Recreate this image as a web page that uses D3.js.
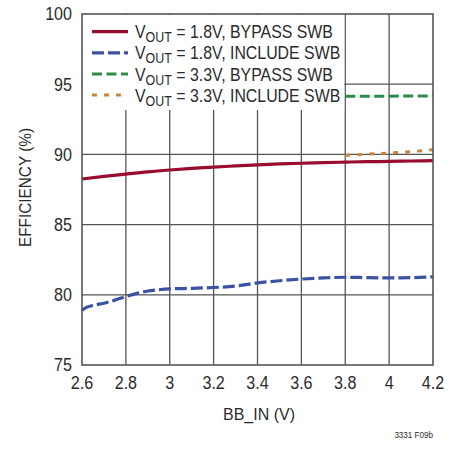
<!DOCTYPE html>
<html>
<head>
<meta charset="utf-8">
<script src="https://cdn.jsdelivr.net/npm/d3@7"></script>
<style>
  body { margin: 0; background: #fff; }
  svg text { font-family: "Liberation Sans", Arial, sans-serif; fill: #2b2b2b; }
</style>
</head>
<body>
<div id="chart"></div>
<script>
// axis ticks
const xTicks = [2.6, 2.8, 3.0, 3.2, 3.4, 3.6, 3.8, 4.0, 4.2];
const yTicks = [75, 80, 85, 90, 95, 100];

// VOUT = 1.8V, BYPASS SWB
const bypass18X = [2.6, 2.7, 2.8, 2.9, 3.0, 3.1, 3.2, 3.3, 3.4, 3.5, 3.6, 3.7, 3.8, 3.9, 4.0, 4.1, 4.2];
const bypass18Y = [88.25, 88.43, 88.6, 88.76, 88.89, 89.0, 89.1, 89.18, 89.26, 89.32, 89.37, 89.41, 89.45, 89.48, 89.5, 89.53, 89.56];

// VOUT = 1.8V, INCLUDE SWB
const include18X = [2.6, 2.62, 2.65, 2.7, 2.75, 2.8, 2.85, 2.9, 2.95, 3.0, 3.1, 3.2, 3.3, 3.4, 3.5, 3.6, 3.7, 3.8, 3.9, 4.0, 4.1, 4.2];
const include18Y = [78.9, 79.1, 79.25, 79.4, 79.62, 79.88, 80.1, 80.27, 80.36, 80.42, 80.46, 80.52, 80.62, 80.85, 81.0, 81.12, 81.2, 81.25, 81.22, 81.2, 81.22, 81.28];

// VOUT = 3.3V, BYPASS SWB
const bypass33X = [3.8, 4.0, 4.2];
const bypass33Y = [94.15, 94.15, 94.17];

// VOUT = 3.3V, INCLUDE SWB
const include33X = [3.8, 3.9, 4.0, 4.1, 4.2];
const include33Y = [89.93, 90.02, 90.1, 90.2, 90.33];

const series = [
    { vout: "1.8V", mode: "BYPASS SWB", xs: bypass18X, ys: bypass18Y, color: "#9a0c2f", width: 3.2, dash: null },
    { vout: "1.8V", mode: "INCLUDE SWB", xs: include18X, ys: include18Y, color: "#3a52a3", width: 3.2, dash: "12,4" },
    { vout: "3.3V", mode: "BYPASS SWB", xs: bypass33X, ys: bypass33Y, color: "#2d8a4b", width: 3, dash: "10,4.5" },
    { vout: "3.3V", mode: "INCLUDE SWB", xs: include33X, ys: include33Y, color: "#c6843c", width: 3, dash: "5,7" }
];

const W = 455, H = 451;
const plot = { left: 82, right: 433, top: 14, bottom: 365 };

const svg = d3.select("#chart").append("svg")
    .attr("width", W)
    .attr("height", H);

const x = d3.scaleLinear().domain([2.6, 4.2]).range([plot.left, plot.right]);
const y = d3.scaleLinear().domain([75, 100]).range([plot.bottom, plot.top]);

// squeeze text horizontally to look like a condensed face
function condense(sel, factor) {
    sel.each(function() {
        const len = this.getComputedTextLength();
        d3.select(this)
            .attr("textLength", len * factor)
            .attr("lengthAdjust", "spacingAndGlyphs");
    });
}

// gridlines
const grid = svg.append("g").attr("stroke", "#555").attr("stroke-width", 1.3);
grid.selectAll(".vgrid")
    .data(xTicks.slice(1, -1))
    .enter().append("line")
    .attr("x1", d => x(d)).attr("x2", d => x(d))
    .attr("y1", plot.top).attr("y2", plot.bottom);
grid.selectAll(".hgrid")
    .data(yTicks.slice(1, -1))
    .enter().append("line")
    .attr("x1", plot.left).attr("x2", plot.right)
    .attr("y1", d => y(d)).attr("y2", d => y(d));

// lines
const line = d3.line()
    .x(d => x(d[0]))
    .y(d => y(d[1]))
    .curve(d3.curveMonotoneX);

series.forEach(s => {
    const pts = s.xs.map((v, i) => [v, s.ys[i]]);
    svg.append("path")
        .datum(pts)
        .attr("d", line)
        .attr("fill", "none")
        .attr("stroke", s.color)
        .attr("stroke-width", s.width)
        .attr("stroke-dasharray", s.dash);
});

// legend box covers the grid
const legend = svg.append("g");
legend.append("rect")
    .attr("x", plot.left + 1)
    .attr("y", plot.top + 1)
    .attr("width", x(3.8) - plot.left - 2)
    .attr("height", 95)
    .attr("fill", "#fff");

const legendTexts = [];
series.forEach((s, i) => {
    const ly = 31.7 + i * 21.1;
    legend.append("line")
        .attr("x1", 92).attr("x2", 128)
        .attr("y1", ly).attr("y2", ly)
        .attr("stroke", s.color)
        .attr("stroke-width", s.width)
        .attr("stroke-dasharray", s.dash);
    const t = legend.append("text")
        .attr("data-y", ly + 6.6)
        .style("font-size", "18.5px");
    t.append("tspan").text("V");
    t.append("tspan").attr("dy", 4).style("font-size", "14.5px").text("OUT");
    t.append("tspan").attr("dy", -4).text(` = ${s.vout}, ${s.mode}`);
    legendTexts.push(t);
});
// first row spans about 198px in the reference
const legendFactor = 198 / legendTexts[0].node().getBBox().width;
legendTexts.forEach(t => {
    t.attr("transform", `translate(135, ${t.attr("data-y")}) scale(${legendFactor}, 1)`);
});

// frame
svg.append("rect")
    .attr("x", plot.left).attr("y", plot.top)
    .attr("width", plot.right - plot.left)
    .attr("height", plot.bottom - plot.top)
    .attr("fill", "none")
    .attr("stroke", "#555")
    .attr("stroke-width", 1.6);

// tick labels
svg.selectAll(".ytick")
    .data(yTicks)
    .enter().append("text")
    .attr("class", "ytick")
    .attr("x", 72)
    .attr("y", d => y(d) + 6.3)
    .attr("text-anchor", "end")
    .style("font-size", "17.5px")
    .text(d => d)
    .call(condense, 0.92);

svg.selectAll(".xtick")
    .data(xTicks)
    .enter().append("text")
    .attr("class", "xtick")
    .attr("x", d => x(d))
    .attr("y", 389)
    .attr("text-anchor", "middle")
    .style("font-size", "17.5px")
    .text(d => d3.format("~g")(d))
    .call(condense, 0.92);

// axis titles
svg.append("text")
    .attr("transform", `translate(31, 187.5) rotate(-90)`)
    .attr("text-anchor", "middle")
    .style("font-size", "17px")
    .text("EFFICIENCY (%)")
    .call(function(sel) {
        const len = sel.node().getComputedTextLength();
        condense(sel, 119 / len);
    });

svg.append("text")
    .attr("x", 259)
    .attr("y", 420)
    .attr("text-anchor", "middle")
    .style("font-size", "17px")
    .text("BB_IN (V)")
    .call(function(sel) {
        const len = sel.node().getComputedTextLength();
        condense(sel, 72 / len);
    });

svg.append("text")
    .attr("x", 433)
    .attr("y", 438)
    .attr("text-anchor", "end")
    .style("font-size", "9.5px")
    .text("3331 F09b")
    .call(condense, 0.85);
</script>
</body>
</html>
